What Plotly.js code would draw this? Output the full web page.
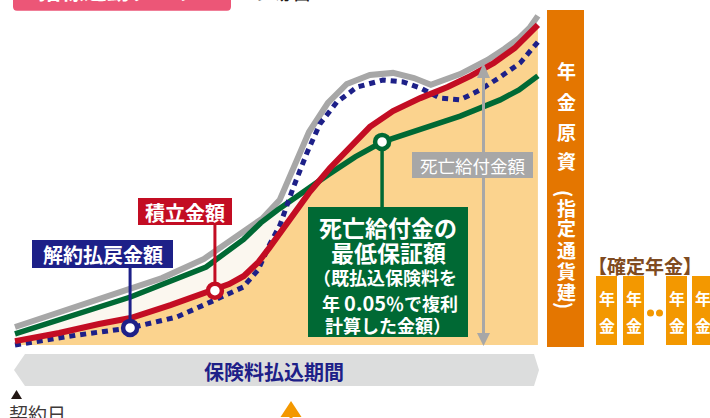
<!DOCTYPE html>
<html><head><meta charset="utf-8">
<script src="https://cdn.plot.ly/plotly-3.0.1.min.js"></script>
<style>html,body{margin:0;padding:0;background:#fff;}#chart{width:710px;height:418px;}</style>
</head><body><div id="chart"></div>
<script>
// ---- data (years on x, amount on y) ----
const deathX = [0, 2, 4.5, 7, 9, 10.8, 11.8, 12.6, 13.2, 14, 14.9, 15.8, 16.9, 18, 19, 19.8, 21.2, 22.5, 23.3, 24, 24.5, 24.9];
const deathY = [6, 10.7, 16.3, 22.3, 28.7, 37.3, 42.3, 48.3, 58.3, 71, 80.7, 87, 90, 90.7, 89, 86.7, 90.3, 95, 98.7, 102.3, 105.7, 109.7];
const reserveX = [0, 2.1, 4, 5.5, 7.4, 9.5, 10.2, 10.9, 11.6, 12.1, 12.6, 13.1, 14, 15, 16, 16.9, 18, 19.3, 20.6, 21.7, 22.8, 23.8, 24.9];
const reserveY = [1.3, 4, 7, 9, 13.3, 18.3, 20.3, 23, 27.7, 32.3, 37, 41.7, 50.7, 59, 66.3, 72.7, 78, 82.3, 86, 89.7, 94, 99, 106.7];
const guaranteeX = [0, 2.1, 5.5, 9.1, 10.9, 11.7, 12.5, 14.9, 16.2, 17.5, 19.3, 21.2, 23.1, 24, 24.9];
const guaranteeY = [3.7, 8.3, 16, 26, 35.3, 40.7, 45, 56.7, 62.7, 67.7, 72, 76.3, 81.7, 85, 89.7];
const surrenderX = [0, 2.95, 5.48, 7.7, 9.3, 10.1, 10.86, 11.57, 12.14, 12.62, 13.24, 13.9, 14.52, 15.33, 16.29, 17.52, 18.48, 19.29, 20.24, 21.19, 22.14, 23.1, 24.05, 24.9];
const surrenderY = [0, 3.3, 5.7, 9.3, 14.3, 16.7, 19.3, 25, 33.7, 40, 52.3, 64, 73.7, 81, 86, 88.3, 87.7, 85.7, 82.3, 81.7, 85, 89.3, 94, 101];
const markerX = [5.48, 9.52, 17.48];
const markerY = [5.7, 18.1, 67.7];

const labelSurrender = '解約払戻金額';
const labelReserve = '積立金額';
const labelDeath = '死亡給付金額';
const labelGuarantee = ['死亡給付金の', '最低保証額', '（既払込保険料を', '年 <span style="font-size:20px">0.05</span>％で複利', '計算した金額）'];
const pensionChars = ['年', '金', '原', '資', '(', '指', '定', '通', '貨', '建', ')'];
const fixedTitle = '【確定年金】';
const periodLabel = '保険料払込期間';
const contractLabel = '契約日';
const topLabel = '指標連動タイプ';
const topSuffix = 'の場合';

// ---- styles / layout helpers ----
const W = 710, H = 418;
const NAVY = '#1D2088', RED = '#C30D23', GREEN = '#006934', GRAY = '#A7A7A7', BEIGE = '#FBD38E',
      ORANGE = '#E47600', LORANGE = '#F39800', PINK = '#EC5677', BANNER = '#DCDDDD', BROWN = '#7F4B21';
const FONT = '"Noto Sans CJK JP", "Noto Sans", sans-serif';
const px2x = p => (p - 15) / 21;
const py2y = p => (345 - p) / 3;
const X = p => p / W;
const Y = p => 1 - p / H;

function rect(x0, y0, x1, y1, color) {
  return {type: 'rect', xref: 'paper', yref: 'paper', x0: X(x0), x1: X(x1), y0: Y(y1), y1: Y(y0),
          fillcolor: color, line: {width: 0}, layer: 'above'};
}
function poly(pts, color) {
  const d = pts.map((p, i) => (i ? 'L' : 'M') + X(p[0]) + ',' + Y(p[1])).join(' ') + ' Z';
  return {type: 'path', xref: 'paper', yref: 'paper', path: d, fillcolor: color, line: {width: 0}, layer: 'above'};
}
function vline(x, y0, y1, color, w) {
  return {type: 'line', xref: 'paper', yref: 'paper', x0: X(x), x1: X(x), y0: Y(y0), y1: Y(y1),
          line: {color: color, width: w}, layer: 'above'};
}
function txt(t, cx, cy, size, color, weight) {
  return {text: t, x: X(cx), y: Y(cy), xref: 'paper', yref: 'paper', xanchor: 'center', yanchor: 'middle',
          showarrow: false, font: {family: FONT, size: size, color: color, weight: weight || 'normal'}};
}

const traces = [
  {x: guaranteeX, y: guaranteeY, mode: 'lines', line: {width: 0}, hoverinfo: 'skip'},
  {x: reserveX, y: reserveY, mode: 'lines', line: {width: 0}, fill: 'tonexty', fillcolor: '#FBF7EF', hoverinfo: 'skip'},
  {x: reserveX, y: reserveY, mode: 'lines', line: {width: 0}, fill: 'tozeroy', fillcolor: BEIGE, hoverinfo: 'skip'},
  {x: deathX, y: deathY, mode: 'lines', line: {color: GRAY, width: 6}},
  {x: guaranteeX, y: guaranteeY, mode: 'lines', line: {color: GREEN, width: 5.5}},
  {x: surrenderX, y: surrenderY, mode: 'lines', line: {color: NAVY, width: 5, dash: '6px,5px'}},
  {x: reserveX, y: reserveY, mode: 'lines', line: {color: RED, width: 6}},
  // connectors from label boxes to the marked points
  {x: [markerX[0], markerX[0]], y: [py2y(268), markerY[0]], mode: 'lines', line: {color: NAVY, width: 3}},
  {x: [markerX[1], markerX[1]], y: [py2y(225), markerY[1]], mode: 'lines', line: {color: RED, width: 3}},
  {x: [markerX[2], markerX[2]], y: [py2y(207), markerY[2]], mode: 'lines', line: {color: GREEN, width: 3.5}},
  {x: markerX, y: markerY, mode: 'markers',
   marker: {size: 14, color: '#FFFFFF', line: {width: 4.5, color: [NAVY, RED, GREEN]}}}
];

const shapes = [
  // top tag
  {type: 'path', xref: 'paper', yref: 'paper', fillcolor: PINK, line: {width: 0},
   path: 'M' + X(13) + ',' + Y(-5) + ' L' + X(231) + ',' + Y(-5) + ' L' + X(231) + ',' + Y(6.5) +
         ' Q' + X(231) + ',' + Y(10.7) + ' ' + X(227) + ',' + Y(10.7) + ' L' + X(17) + ',' + Y(10.7) +
         ' Q' + X(13) + ',' + Y(10.7) + ' ' + X(13) + ',' + Y(6.5) + ' Z'},
  rect(32, 240, 173, 268, NAVY),
  rect(138, 198, 232, 225, RED),
  rect(412, 152, 533, 178, GRAY),
  rect(308, 207, 468, 337, GREEN),
  // death benefit double arrow
  vline(483.5, 74, 336, GRAY, 3),
  poly([[477, 78], [490, 78], [483.5, 63]], GRAY),
  poly([[477, 333], [490, 333], [483.5, 346]], GRAY),
  // pension fund column
  rect(547, 10, 584, 347, ORANGE),
  rect(596, 276, 617, 345, LORANGE),
  rect(623, 276, 644, 345, LORANGE),
  rect(666, 276, 687, 345, LORANGE),
  rect(692, 276, 713, 345, LORANGE),
  {type: 'circle', xref: 'paper', yref: 'paper', x0: X(647), x1: X(654), y0: Y(316.5), y1: Y(309.5), fillcolor: LORANGE, line: {width: 0}},
  {type: 'circle', xref: 'paper', yref: 'paper', x0: X(656), x1: X(663), y0: Y(316.5), y1: Y(309.5), fillcolor: LORANGE, line: {width: 0}},
  // premium payment period banner
  poly([[14, 370], [25, 354], [534, 354], [539, 370], [534, 386], [25, 386]], BANNER),
  poly([[11, 399], [22, 399], [16.5, 390]], '#231815'),
  poly([[280.5, 417], [301.5, 417], [291, 401]], LORANGE),
  poly([[282, 430], [300, 430], [291, 415]], LORANGE)
];

const topTag = txt(topLabel, 118, 0, 23, '#FFFFFF', 'bold');
topTag.yanchor = 'bottom'; topTag.y = Y(8);
const topTail = txt(topSuffix, 280, 0, 22, '#231815');
topTail.yanchor = 'bottom'; topTail.y = Y(7);

const annotations = [
  topTag, topTail,
  txt(labelSurrender, 102.5, 254.5, 20, '#FFFFFF', 'bold'),
  txt(labelReserve, 185, 212, 20, '#FFFFFF', 'bold'),
  txt(labelDeath, 472.5, 165.5, 17.5, '#FFFFFF'),
  txt(labelGuarantee[0], 388, 227, 23, '#FFFFFF', 'bold'),
  txt(labelGuarantee[1], 388, 252, 23, '#FFFFFF', 'bold'),
  txt(labelGuarantee[2], 385, 277, 18, '#FFFFFF', 'bold'),
  txt(labelGuarantee[3], 390, 302, 18, '#FFFFFF', 'bold'),
  txt(labelGuarantee[4], 388, 325, 18, '#FFFFFF', 'bold'),
  txt(fixedTitle, 645, 265, 19, BROWN, 'bold'),
  txt(periodLabel, 274, 371, 20, NAVY, 'bold'),
  txt(contractLabel, 37, 413, 19, '#3E3A39')
];
const pensionY = [70, 101, 131, 160, 193, 207, 228, 249, 270, 291, 305];
pensionChars.forEach((c, i) => {
  const a = txt(c, 566, pensionY[i], 19, '#FFFFFF', 'bold');
  if (c === '(' || c === ')') a.textangle = 90;
  annotations.push(a);
});
[606.5, 633.5, 676.5, 702.5].forEach(cx => {
  annotations.push(txt('年', cx, 298, 16, '#FFFFFF', 'bold'));
  annotations.push(txt('金', cx, 325, 16, '#FFFFFF', 'bold'));
});

const layout = {
  width: W, height: H, margin: {l: 0, r: 0, t: 0, b: 0},
  paper_bgcolor: '#FFFFFF', plot_bgcolor: '#FFFFFF', showlegend: false,
  xaxis: {range: [px2x(0), px2x(W)], visible: false, fixedrange: true},
  yaxis: {range: [py2y(H), py2y(0)], visible: false, fixedrange: true},
  shapes: shapes, annotations: annotations
};
Plotly.newPlot('chart', traces, layout, {staticPlot: true, displayModeBar: false});
</script></body></html>
